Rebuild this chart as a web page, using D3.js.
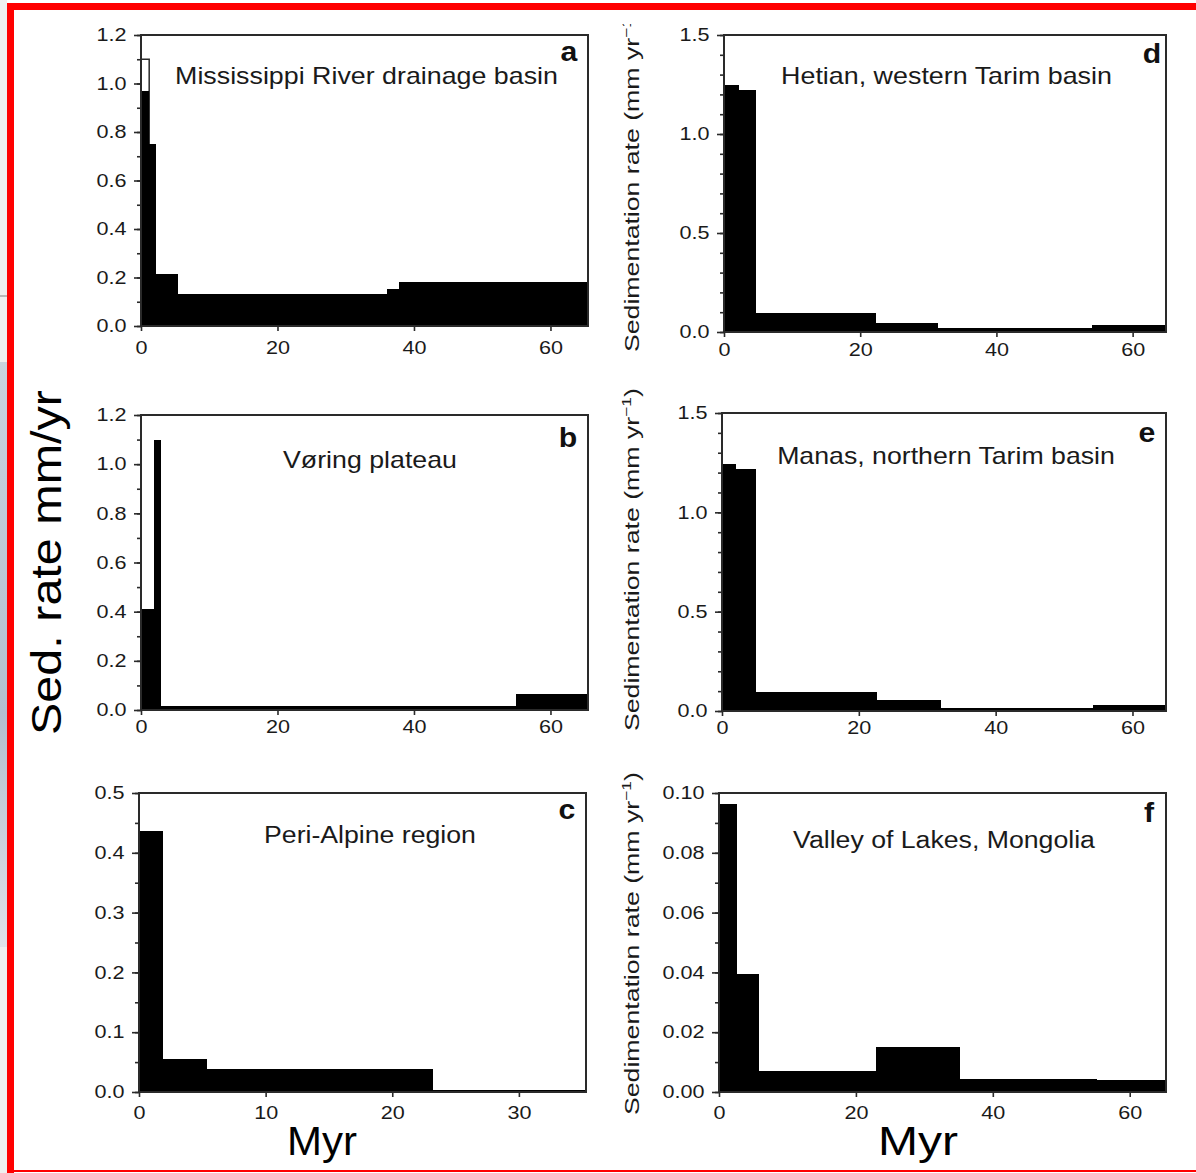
<!DOCTYPE html>
<html><head><meta charset="utf-8">
<script src="https://cdn.jsdelivr.net/npm/d3@7"></script>
<style>
body{margin:0;background:#fff;}
svg{display:block;}
text{font-family:"Liberation Sans",Arial,Helvetica,sans-serif;}
</style>
</head><body>
<svg id="chart" width="1196" height="1173"></svg>
<script>
// ---------------- data ----------------
const aEdges = [0, 1.2, 2.2, 5.4, 36.0, 37.8, 65.5];
const aRates = [0.97, 0.75, 0.214, 0.132, 0.153, 0.183];
const aOpenEdges = [0, 1.2];
const aOpenRates = [1.10];
const bEdges = [0, 1.9, 2.9, 55, 65.5];
const bRates = [0.41, 1.10, 0.016, 0.065];
const cEdges = [0, 1.9, 5.4, 23.2, 35.3];
const cRates = [0.436, 0.055, 0.038, 0.004];
const dEdges = [0, 2.2, 4.7, 22.3, 31.4, 54.0, 64.9];
const dRates = [1.247, 1.222, 0.096, 0.045, 0.02, 0.035];
const eEdges = [0, 2.0, 5.0, 22.7, 32.0, 54.3, 64.9];
const eRates = [1.243, 1.218, 0.095, 0.055, 0.015, 0.03];
const fEdges = [0, 2.6, 5.8, 22.9, 35.2, 55.2, 65.3];
const fRates = [0.0963, 0.0395, 0.007, 0.015, 0.0045, 0.004];

const panelTitles = ["Mississippi River drainage basin", "Vøring plateau", "Peri-Alpine region",
                     "Hetian, western Tarim basin", "Manas, northern Tarim basin", "Valley of Lakes, Mongolia"];
const panelLetters = ["a", "b", "c", "d", "e", "f"];

const yTicksAB = [0, 0.2, 0.4, 0.6, 0.8, 1.0, 1.2];
const yTicksC = [0, 0.1, 0.2, 0.3, 0.4, 0.5];
const yTicksDE = [0, 0.5, 1.0, 1.5];
const yTicksF = [0, 0.02, 0.04, 0.06, 0.08, 0.10];
const xTicks60 = [0, 20, 40, 60];
const xTicks30 = [0, 10, 20, 30];

const leftAxisTitle = "Sed. rate mm/yr";
const rightAxisTitle = "Sedimentation rate (mm yr";
const xAxisTitle = "Myr";

// ---------------- layout ----------------
const panels = [
  {edges:aEdges, rates:aRates, open:{edges:aOpenEdges, rates:aOpenRates}, yMax:1.2, yTicks:yTicksAB, minor:0.1, fmt:d3.format(".1f"),
   xMax:65.5, xTicks:xTicks60, box:[141,588,35,326], xPad:10,
   title:{cx:366.5, cy:76, w:383}, letter:{x:569, y:61}},
  {edges:bEdges, rates:bRates, yMax:1.2, yTicks:yTicksAB, minor:0.1, fmt:d3.format(".1f"),
   xMax:65.5, xTicks:xTicks60, box:[141,588,415,710], xPad:5,
   title:{cx:370, cy:460, w:174}, letter:{x:568, y:447}},
  {edges:cEdges, rates:cRates, yMax:0.5, yTicks:yTicksC, minor:0.05, fmt:d3.format(".1f"),
   xMax:35.3, xTicks:xTicks30, box:[139,586,793,1092], xPad:9,
   title:{cx:370, cy:835, w:212}, letter:{x:567, y:819}},
  {edges:dEdges, rates:dRates, yMax:1.5, yTicks:yTicksDE, minor:0.1, fmt:d3.format(".1f"),
   xMax:64.9, xTicks:xTicks60, box:[724,1166,35,332], xPad:6,
   title:{cx:946.5, cy:76, w:331}, letter:{x:1152, y:63}, ylab:{x:639, y:352, clip:24}},
  {edges:eEdges, rates:eRates, yMax:1.5, yTicks:yTicksDE, minor:0.1, fmt:d3.format(".1f"),
   xMax:64.9, xTicks:xTicks60, box:[722,1166,413,711], xPad:5,
   title:{cx:946, cy:456, w:338}, letter:{x:1147, y:442}, ylab:{x:639, y:731}},
  {edges:fEdges, rates:fRates, yMax:0.10, yTicks:yTicksF, minor:0.01, fmt:d3.format(".2f"),
   xMax:65.3, xTicks:xTicks60, box:[719,1166,793,1092], xPad:9,
   title:{cx:944, cy:840, w:302}, letter:{x:1149, y:822}, ylab:{x:639, y:1115}}
];

const svg = d3.select("#chart");
const INK = "#2a2a2a";

// background strip + red border
const grad = svg.append("defs").append("linearGradient").attr("id","bluegrad")
  .attr("x1",0).attr("x2",0).attr("y1",0).attr("y2",1);
grad.append("stop").attr("offset","0%").attr("stop-color","#c9d3df");
grad.append("stop").attr("offset","60%").attr("stop-color","#b3c0cf");
grad.append("stop").attr("offset","100%").attr("stop-color","#dfe4ea");
svg.append("rect").attr("x",0).attr("y",0).attr("width",7).attr("height",1173).attr("fill","#efefef");
svg.append("rect").attr("x",0).attr("y",362).attr("width",7).attr("height",585).attr("fill","url(#bluegrad)");
svg.append("rect").attr("x",0).attr("y",295).attr("width",7).attr("height",2).attr("fill","#b8b8b8");
svg.append("rect").attr("x",7).attr("y",3).attr("width",1189).attr("height",7).attr("fill","#ff0000");
svg.append("rect").attr("x",7).attr("y",3).attr("width",7).attr("height",1170).attr("fill","#ff0000");
svg.append("rect").attr("x",7).attr("y",1170).attr("width",1189).attr("height",2).attr("fill","#ff0000");

function scaledText(parent, str, opts) {
  const t = parent.append("text").attr("font-size", opts.size)
    .attr("font-weight", opts.weight || "normal")
    .attr("text-anchor", opts.anchor || "middle")
    .attr("fill", opts.fill || "#1a1a1a")
    .attr("dy", opts.dy || 0)
    .text(str);
  const nat = t.node().getComputedTextLength();
  const k = opts.length ? opts.length / nat : (opts.k || 1);
  t.attr("transform", `translate(${opts.x},${opts.y}) rotate(${opts.rotate || 0}) scale(${k},1)`);
  return t;
}

panels.forEach((p, i) => {
  const [x0, x1, y0, y1] = p.box;
  const x = d3.scaleLinear().domain([0, p.xMax]).range([x0, x1]);
  const y = d3.scaleLinear().domain([0, p.yMax]).range([y1, y0]);
  const g = svg.append("g");

  // open (outlined) bar
  if (p.open) {
    g.selectAll("rect.open").data(p.open.rates).join("rect").attr("class","open")
      .attr("x", (d, j) => x(p.open.edges[j]))
      .attr("width", (d, j) => x(p.open.edges[j+1]) - x(p.open.edges[j]))
      .attr("y", d => y(d)).attr("height", d => y(0) - y(d))
      .attr("fill", "#fff").attr("stroke", INK).attr("stroke-width", 1.5);
  }
  // filled bars
  g.selectAll("rect.bar").data(p.rates).join("rect").attr("class","bar")
    .attr("x", (d, j) => x(p.edges[j]))
    .attr("width", (d, j) => x(p.edges[j+1]) - x(p.edges[j]))
    .attr("y", d => y(d)).attr("height", d => y(0) - y(d))
    .attr("fill", "#000").attr("shape-rendering","crispEdges");

  // minor y ticks
  const minorVals = d3.range(0, p.yMax + 1e-9, p.minor);
  const yMinorAx = g.append("g").attr("transform", `translate(${x0},0)`)
    .call(d3.axisLeft(y).tickValues(minorVals).tickSize(4).tickFormat(""));
  // major y ticks
  const yAx = g.append("g").attr("transform", `translate(${x0},0)`)
    .call(d3.axisLeft(y).tickValues(p.yTicks).tickSize(7).tickPadding(5).tickFormat(p.fmt));
  // x ticks
  const xAx = g.append("g").attr("transform", `translate(0,${y1})`)
    .call(d3.axisBottom(x).tickValues(p.xTicks).tickSize(5).tickPadding(p.xPad).tickFormat(d3.format("d")));

  [yMinorAx, yAx, xAx].forEach(ax => {
    ax.select(".domain").remove();
    ax.selectAll("line").attr("stroke", INK).attr("stroke-width", 1.6);
    ax.selectAll("text").attr("font-size", 18).attr("fill", "#1a1a1a")
      .attr("font-family", '"Liberation Sans",Arial,sans-serif')
      .attr("transform", "scale(1.2,1)");
  });

  // frame
  g.append("rect").attr("x", x0).attr("y", y0).attr("width", x1 - x0).attr("height", y1 - y0)
    .attr("fill", "none").attr("stroke", INK).attr("stroke-width", 2);

  // title and letter
  scaledText(g, panelTitles[i], {x:p.title.cx, y:p.title.cy, size:23, dy:"0.35em", length:p.title.w});
  scaledText(g, panelLetters[i], {x:p.letter.x, y:p.letter.y, size:27, weight:"bold", k:1.12, fill:"#111"});

  // right-hand axis titles
  if (p.ylab) {
    let parent = g;
    if (p.ylab.clip) {
      svg.select("defs").append("clipPath").attr("id","clipd")
        .append("rect").attr("x",600).attr("y",p.ylab.clip).attr("width",80).attr("height",400);
      parent = g.append("g").attr("clip-path","url(#clipd)");
    }
    const t = parent.append("text").attr("font-size", 20).attr("text-anchor","start").attr("fill","#1a1a1a");
    t.append("tspan").text(rightAxisTitle);
    t.append("tspan").attr("font-size", 13).attr("dy", -8).text("−1");
    t.append("tspan").attr("dy", 8).text(")");
    const nat = t.node().getComputedTextLength();
    const k = 343 / nat;
    t.attr("transform", `translate(${p.ylab.x},${p.ylab.y}) rotate(-90) scale(${k},1)`);
  }
});

// overall axis titles
scaledText(svg, leftAxisTitle, {x:61, y:735, size:42, anchor:"start", rotate:-90, length:345, fill:"#000"});
scaledText(svg, xAxisTitle, {x:287, y:1155, size:40, anchor:"start", length:70, fill:"#000"});
scaledText(svg, xAxisTitle, {x:878, y:1155, size:40, anchor:"start", length:80, fill:"#000"});
</script>
</body></html>
